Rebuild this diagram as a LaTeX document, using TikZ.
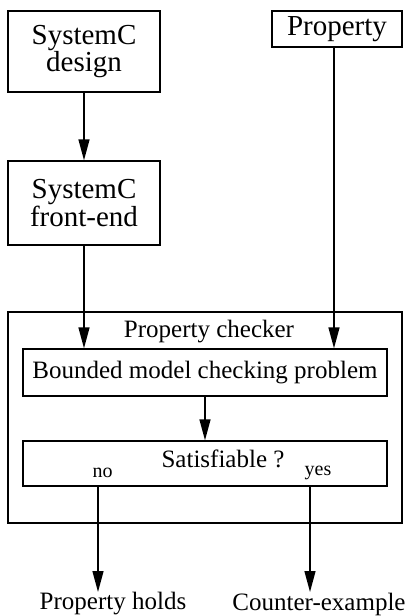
\documentclass[tikz,border=0pt]{standalone}
\usepackage{fontspec}
\setmainfont{Liberation Serif}
\usetikzlibrary{arrows.meta}

\tikzset{
	blk/.style={draw, line width=1.4pt, inner sep=0pt, align=center},
	big/.style={font=\fontsize{29}{26}\selectfont},
	mid/.style={font=\fontsize{25}{28}\selectfont},
	sml/.style={font=\fontsize{20}{22}\selectfont},
	arr/.style={line width=1.4pt, -{Triangle[length=21pt,width=11pt]}}
}

\begin{document}
\begin{tikzpicture}[x=1pt,y=-1pt]
	\useasboundingbox (0,0) rectangle (405,616);
	% inputs
	\node[blk,big,minimum width=152pt,minimum height=81pt] (design) at (84,51.5) {SystemC\\design};
	\node[blk,big,minimum width=130pt,minimum height=36pt] (prop) at (337,29) {Property};
	\node[blk,big,minimum width=152pt,minimum height=84pt] (front) at (84,203) {SystemC\\front-end};
	% checker
	\draw[line width=1.4pt] (8,312) rectangle (402,523);
	\node[mid] (chk) at (209,332) {Property checker};
	\node[blk,mid,minimum width=364pt,minimum height=47pt] (bmc) at (205,372.5) {Bounded model checking problem};
	\node[blk,minimum width=364pt,minimum height=45pt] (sat) at (205,463.5) {};
	\node[mid] (satq) at (223,459) {Satisfiable ?};
	\node[sml] (no) at (102.5,473) {no};
	\node[sml] (yes) at (318,473) {yes};
	% results
	\node[mid] (holds) at (113,604) {Property holds};
	\node[mid] (cex) at (319,604) {Counter-example};
	\coordinate (hin) at (98,592);
	\coordinate (cin) at (310,592);
	\draw[arr] (design) -- (front);
	\draw[arr] (front.south) -- (front.south |- bmc.north);
	\draw[arr] ([xshift=-3pt]prop.south) -- ([xshift=-3pt]prop.south |- bmc.north);
	\draw[arr] (bmc) -- (sat);
	\draw[arr] (sat.south -| hin) -- (hin);
	\draw[arr] (sat.south -| cin) -- (cin);
\end{tikzpicture}
\end{document}
